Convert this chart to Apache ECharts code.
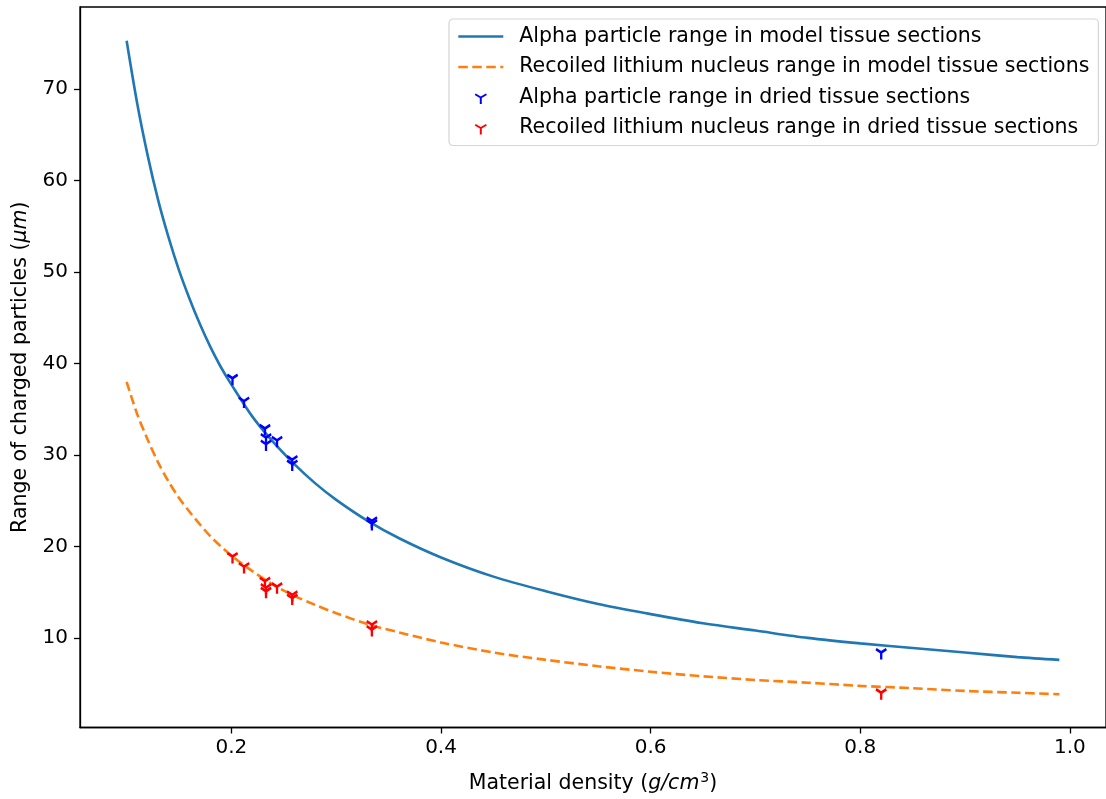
<!DOCTYPE html>
<html>
<head>
<meta charset="utf-8">
<script src="https://cdn.jsdelivr.net/npm/echarts@6/dist/echarts.min.js"></script>
<style>html,body{margin:0;padding:0;background:#fff;}#c{width:1106px;height:799px;}</style>
</head>
<body>
<div id="c"></div>
<script>
// Density values (g/cm^3) at which the model curves were read
const densityModel = [0.10,0.11,0.12,0.13,0.14,0.15,0.16,0.17,0.18,0.19,0.20,0.22,0.24,0.26,0.28,0.30,0.33,0.36,0.40,0.45,0.50,0.55,0.60,0.65,0.70,0.75,0.80,0.85,0.90,0.95,0.99];
const alphaModel = [75.3,68.5,62.8,57.9,53.8,50.2,47.1,44.3,41.8,39.6,37.7,34.2,31.4,29.0,26.9,25.1,22.8,20.9,18.8,16.7,15.1,13.7,12.6,11.6,10.8,10.0,9.4,8.9,8.4,7.9,7.6];
const lithiumModel = [38.0,34.5,31.7,29.2,27.1,25.3,23.8,22.4,21.1,20.0,19.0,17.3,15.8,14.6,13.6,12.7,11.5,10.6,9.5,8.4,7.6,6.9,6.3,5.8,5.4,5.1,4.75,4.5,4.2,4.0,3.84];
// Dried tissue measurements
const densityDried = [0.201,0.212,0.232,0.233,0.233,0.2435,0.258,0.258,0.334,0.334,0.82];
const alphaDried = [38.4,35.9,32.9,31.9,31.2,31.6,29.5,29.0,22.8,22.5,8.4];
const lithiumDried = [18.9,17.8,16.2,15.5,15.1,15.6,14.7,14.35,11.45,10.9,4.0];
// Tick labels
const xTicks = [0.2,0.4,0.6,0.8,1.0];
const yTicks = [10,20,30,40,50,60,70];
const seriesNames = [
  'Alpha particle range in model tissue sections',
  'Recoiled lithium nucleus range in model tissue sections',
  'Alpha particle range in dried tissue sections',
  'Recoiled lithium nucleus range in dried tissue sections'
];

const triDown = 'path://M0,-10 M0,0 L0,10 M0,0 L-8.66,-5 M0,0 L8.66,-5';
const FONT = 'DejaVu Sans';
const pair = (xs, ys) => xs.map((x, i) => [x, ys[i]]);

const chart = echarts.init(document.getElementById('c'), null, {renderer: 'canvas'});
chart.setOption({
  animation: false,
  backgroundColor: '#fff',
  grid: {left: 80, top: 7, right: -2, bottom: 69, show: true, borderColor: '#000', borderWidth: 1.3, backgroundColor: 'transparent'},
  xAxis: {
    type: 'value', min: 0.0555, max: 1.0345,
    name: 'Material density ({i|g/cm}{sup|3}{n|)}',
    nameLocation: 'middle', nameGap: 44,
    nameTextStyle: {color: '#000', fontFamily: FONT, fontSize: 20.5,
      rich: {i: {fontStyle: 'italic', fontFamily: FONT, fontSize: 20.5, color: '#000'},
             sup: {fontFamily: FONT, fontSize: 14, color: '#000', verticalAlign: 'top', padding: [0, 0, 10, 1]},
             n: {fontFamily: FONT, fontSize: 20.5, color: '#000'}}},
    splitLine: {show: false},
    axisLine: {show: true, onZero: false, lineStyle: {color: '#000', width: 1.3}},
    axisTick: {show: true, length: 6, customValues: xTicks, lineStyle: {color: '#000', width: 1.3}},
    axisLabel: {customValues: xTicks, formatter: v => v.toFixed(1), color: '#000', fontFamily: FONT, fontSize: 20, margin: 10}
  },
  yAxis: {
    type: 'value', min: 0.2, max: 79.0,
    name: 'Range of charged particles ({i|μm})',
    nameLocation: 'middle', nameGap: 49,
    nameTextStyle: {color: '#000', fontFamily: FONT, fontSize: 20.5,
      rich: {i: {fontStyle: 'italic', fontFamily: FONT, fontSize: 20.5, color: '#000'}}},
    splitLine: {show: false},
    axisLine: {show: true, onZero: false, lineStyle: {color: '#000', width: 1.3}},
    axisTick: {show: true, length: 6, customValues: yTicks, lineStyle: {color: '#000', width: 1.3}},
    axisLabel: {customValues: yTicks, color: '#000', fontFamily: FONT, fontSize: 20, margin: 12}
  },
  legend: {
    orient: 'vertical', left: 449, top: 19,
    padding: [6, 9, 6, 8],
    itemWidth: 45, itemHeight: 13, itemGap: 7.5,
    backgroundColor: 'rgba(255,255,255,0.85)',
    borderColor: '#d5d5d5', borderWidth: 1.2, borderRadius: 4,
    textStyle: {color: '#000', fontFamily: FONT, fontSize: 20.5, lineHeight: 23, padding: [0, 0, 0, 11]},
    data: [
      {name: seriesNames[0], itemStyle: {opacity: 0}, lineStyle: {width: 2.6, color: '#1f77b4'}},
      {name: seriesNames[1], itemStyle: {opacity: 0}, lineStyle: {width: 2.6, color: '#ff7f0e', type: [9.5, 4.5]}},
      {name: seriesNames[2]},
      {name: seriesNames[3]}
    ]
  },
  series: [
    {name: seriesNames[0], type: 'line', data: pair(densityModel, alphaModel), showSymbol: false, symbol: 'none',
     smooth: 0.3, lineStyle: {color: '#1f77b4', width: 2.6}, itemStyle: {color: '#1f77b4'}, z: 2},
    {name: seriesNames[1], type: 'line', data: pair(densityModel, lithiumModel), showSymbol: false, symbol: 'none',
     smooth: 0.3, lineStyle: {color: '#ff7f0e', width: 2.6, type: [9.5, 4.5]}, itemStyle: {color: '#ff7f0e'}, z: 2},
    {name: seriesNames[2], type: 'scatter', data: pair(densityDried, alphaDried), symbol: triDown, symbolSize: [12, 13.9], symbolKeepAspect: true,
     itemStyle: {color: '#0000ff', borderColor: '#0000ff', borderWidth: 2.5, opacity: 1}, z: 3},
    {name: seriesNames[3], type: 'scatter', data: pair(densityDried, lithiumDried), symbol: triDown, symbolSize: [12, 13.9], symbolKeepAspect: true,
     itemStyle: {color: '#ff0000', borderColor: '#ff0000', borderWidth: 2.5, opacity: 1}, z: 3}
  ]
});
</script>
</body>
</html>
